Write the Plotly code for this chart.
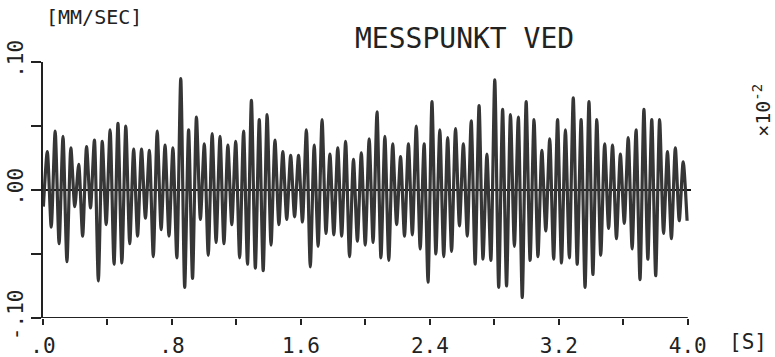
import plotly.graph_objects as go

# ---- data (values in units of 0.01 mm/s) ----
# successive positive peaks (2nd .. last)
peaks = [3.0, 4.6, 4.2, 3.3, 2.0, 3.4, 3.9, 3.8, 4.7, 5.2,
         5.0, 3.2, 3.2, 3.1, 4.6, 3.5, 3.3, 8.7, 4.7, 5.7,
         3.6, 4.4, 4.2, 3.5, 3.8, 4.6, 7.0, 5.5, 5.9, 3.9,
         3.0, 2.7, 2.7, 4.7, 3.5, 5.5, 2.8, 3.3, 3.8, 2.4,
         2.9, 4.0, 6.1, 4.2, 3.6, 2.6, 3.6, 5.0, 3.6, 6.9,
         4.7, 4.1, 4.8, 3.6, 5.4, 6.6, 2.8, 8.6, 6.3, 5.9,
         5.7, 6.9, 5.5, 3.1, 4.0, 5.5, 4.7, 7.2, 5.5, 6.9,
         5.5, 3.6, 3.5, 2.8, 4.1, 4.7, 6.3, 5.5, 5.5, 3.0,
         3.3, 2.2]
# successive negative troughs
troughs = [-1.3, -2.9, -4.2, -5.6, -1.3, -3.6, -1.4, -7.1, -2.7, -5.8,
           -5.7, -4.2, -3.6, -2.2, -5.2, -3.1, -3.6, -5.3, -7.6, -6.9,
           -2.3, -5.1, -4.1, -4.2, -2.7, -5.3, -5.8, -6.1, -6.3, -4.3,
           -2.7, -2.3, -2.1, -2.5, -6.0, -4.4, -3.4, -3.5, -3.6, -5.2,
           -4.0, -4.3, -4.1, -5.3, -5.5, -2.7, -3.6, -3.5, -4.6, -7.2,
           -5.0, -5.2, -4.8, -2.8, -3.6, -5.8, -5.4, -5.5, -7.6, -7.5,
           -4.4, -8.4, -5.5, -5.2, -3.2, -5.4, -5.7, -5.3, -5.8, -7.6,
           -6.6, -5.1, -3.0, -3.8, -2.6, -4.6, -7.0, -5.4, -6.7, -3.4,
           -3.8, -2.4, -2.4]
T_START = 0.0024       # time of first extremum [s]
HALF_PERIOD = 0.02435  # spacing between successive extrema [s]

x_label_vals = [0.0, 0.8, 1.6, 2.4, 3.2, 4.0]
x_label_text = [".0", ".8", "1.6", "2.4", "3.2", "4.0"]
y_label_vals = [-0.10, 0.0, 0.10]
y_label_text = ["-.10", ".00", ".10"]

# ---- build series ----
vals = [troughs[0]]
for p, tr in zip(peaks, troughs[1:]):
    vals += [p, tr]
y = [v / 100.0 for v in vals]
t = [T_START + i * HALF_PERIOD for i in range(len(y))]

FONT = "DejaVu Sans Mono"
INK = "#222222"

W, H = 775, 357
L, T = 43, 62
PW = 648.2
PH = 256
R = W - L - PW
B = H - T - PH


def px(xp):
    return (xp - L) / PW


def py(yp):
    return (T + PH - yp) / PH


fig = go.Figure()
fig.add_trace(go.Scatter(x=t, y=y, mode="lines",
                         line=dict(color="#363636", width=3.2, shape="spline", smoothing=0.7),
                         hoverinfo="skip", showlegend=False))

fig.update_layout(
    width=W, height=H,
    margin=dict(l=L, r=R, t=T, b=B, pad=0, autoexpand=False),
    paper_bgcolor="white", plot_bgcolor="white",
    showlegend=False,
    font=dict(family=FONT, color=INK, size=20),
)
fig.update_xaxes(range=[0, 4.02], automargin=False, showgrid=False, zeroline=False, showline=False,
                 tickmode="array", tickvals=x_label_vals, ticktext=x_label_text,
                 ticks="outside", ticklen=6, tickwidth=2, tickcolor=INK,
                 minor=dict(tick0=0, dtick=0.4, ticks="outside", ticklen=6, tickwidth=2,
                            tickcolor=INK, showgrid=False),
                 tickfont=dict(family=FONT, size=21, color=INK),
                 ticklabelstandoff=3)
fig.update_yaxes(range=[-0.10, 0.10], automargin=False, showgrid=False,
                 zeroline=True, zerolinecolor="#111111", zerolinewidth=2,
                 showline=True, linecolor=INK, linewidth=2,
                 tickmode="array", tickvals=y_label_vals, ticktext=y_label_text,
                 ticks="outside", ticklen=10, tickwidth=2, tickcolor=INK,
                 minor=dict(tick0=0, dtick=0.05, ticks="outside", ticklen=10, tickwidth=2,
                            tickcolor=INK, showgrid=False),
                 tickangle=-90, ticklabelstandoff=0,
                 tickfont=dict(family=FONT, size=21, color=INK))

# bottom axis line (0 .. 4.0 s)
fig.add_shape(type="line", xref="x", yref="y", x0=0, x1=4.0, y0=-0.10, y1=-0.10,
              line=dict(color=INK, width=2))

fig.add_annotation(text="MESSPUNKT VED", xref="paper", yref="paper",
                   x=px(465), y=py(38), xanchor="center", yanchor="middle", showarrow=False,
                   font=dict(family=FONT, size=28, color=INK))
fig.add_annotation(text="[MM/SEC]", xref="paper", yref="paper",
                   x=px(44), y=py(17), xanchor="left", yanchor="middle", showarrow=False,
                   font=dict(family=FONT, size=20, color=INK))
fig.add_annotation(text="[S]", xref="paper", yref="paper",
                   x=px(727), y=py(342), xanchor="left", yanchor="middle", showarrow=False,
                   font=dict(family=FONT, size=21, color=INK))
fig.add_annotation(text="×10<sup>-2</sup>", xref="paper", yref="paper",
                   x=px(762), y=py(110), xanchor="center", yanchor="middle",
                   textangle=-90, showarrow=False,
                   font=dict(family=FONT, size=20, color=INK))

fig.write_html("out.html", config={"displayModeBar": False},
               post_script="document.body.style.margin='0';document.body.style.padding='0';")
